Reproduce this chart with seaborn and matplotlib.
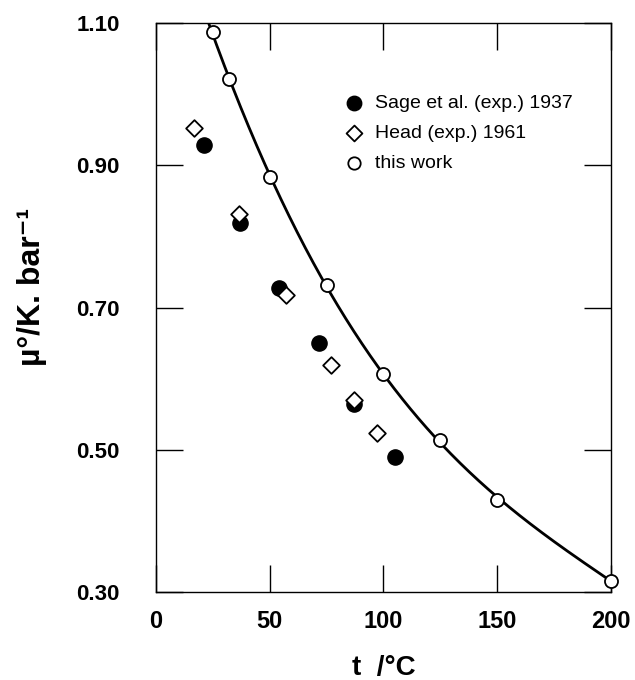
import numpy as np
import pandas as pd
import seaborn as sns
import matplotlib.pyplot as plt

t_sage = [21, 37, 54, 71.5, 87, 105]
mu_sage = [0.928, 0.819, 0.727, 0.650, 0.564, 0.490]

t_head = [16.5, 36.5, 57, 77, 87, 97]
mu_head = [0.953, 0.831, 0.718, 0.619, 0.570, 0.524]

t_this = [25, 32, 50, 75, 100, 125, 150, 200]
mu_this = [1.087, 1.021, 0.883, 0.731, 0.606, 0.514, 0.429, 0.316]

x_ticks = [0, 50, 100, 150, 200]
y_ticks = [0.30, 0.50, 0.70, 0.90, 1.10]

labels = ["Sage et al. (exp.) 1937", "Head (exp.) 1961", "this work"]


def main() -> None:
    sns.set_theme(style="ticks")
    plt.rcParams["font.family"] = ["Liberation Sans", "DejaVu Sans"]

    fig = plt.figure(figsize=(6.35, 6.8), dpi=100)
    ax = fig.add_axes([156 / 635, 1 - 592 / 680, 455 / 635, 569 / 680])

    # smooth curve through "this work" points (cubic least squares)
    coef = np.polyfit(t_this, mu_this, 3)
    t_fit = np.linspace(min(t_this) - 2, max(t_this), 300)
    curve = pd.DataFrame({"t": t_fit, "mu": np.polyval(coef, t_fit)})
    sns.lineplot(data=curve, x="t", y="mu", ax=ax, color="black", lw=2.0,
                 legend=False, zorder=2)

    df_sage = pd.DataFrame({"t": t_sage, "mu": mu_sage})
    df_head = pd.DataFrame({"t": t_head, "mu": mu_head})
    df_this = pd.DataFrame({"t": t_this, "mu": mu_this})

    sns.scatterplot(data=df_sage, x="t", y="mu", ax=ax, marker="o", s=120,
                    color="black", edgecolor="black", linewidth=1.0,
                    label=labels[0], zorder=3, clip_on=False)
    sns.scatterplot(data=df_head, x="t", y="mu", ax=ax, marker="D", s=72,
                    facecolor="white", edgecolor="black", linewidth=1.3,
                    label=labels[1], zorder=4, clip_on=False)
    sns.scatterplot(data=df_this, x="t", y="mu", ax=ax, marker="o", s=88,
                    facecolor="white", edgecolor="black", linewidth=1.3,
                    label=labels[2], zorder=4, clip_on=False)

    ax.set_xlim(0, 200)
    ax.set_ylim(0.30, 1.10)
    ax.set_xticks(x_ticks)
    ax.set_yticks(y_ticks)
    ax.set_yticklabels([f"{v:.2f}" for v in y_ticks])

    ax.tick_params(axis="both", which="major", direction="in", length=19.5,
                   width=1.0, color="black", top=True, right=True,
                   labelcolor="black")
    ax.tick_params(axis="y", pad=26, labelsize=16)
    ax.tick_params(axis="x", pad=13, labelsize=17)
    for lab in ax.get_xticklabels() + ax.get_yticklabels():
        lab.set_fontweight("bold")

    for sp in ax.spines.values():
        sp.set_visible(True)
        sp.set_color("black")
        sp.set_linewidth(1.0)

    ax.set_xlabel("t  /°C", fontsize=20, fontweight="bold", color="black")
    ax.set_ylabel("µ°/K. bar⁻¹", fontsize=23, fontweight="bold", color="black")
    ax.xaxis.set_label_coords(0.5, -0.111)
    ax.yaxis.set_label_coords(-0.24, 0.536)

    leg = ax.legend(loc="upper left", bbox_to_anchor=(344 / 635, 1 - 94 / 680),
                    bbox_transform=fig.transFigure, frameon=False,
                    fontsize=14, handlelength=1.0, handletextpad=0.6,
                    borderpad=0, borderaxespad=0, labelspacing=0.64,
                    markerscale=0.95)
    for txt in leg.get_texts():
        txt.set_color("black")

    fig.savefig("out.png", dpi=100, facecolor="white")
    plt.close(fig)


if __name__ == "__main__":
    main()
